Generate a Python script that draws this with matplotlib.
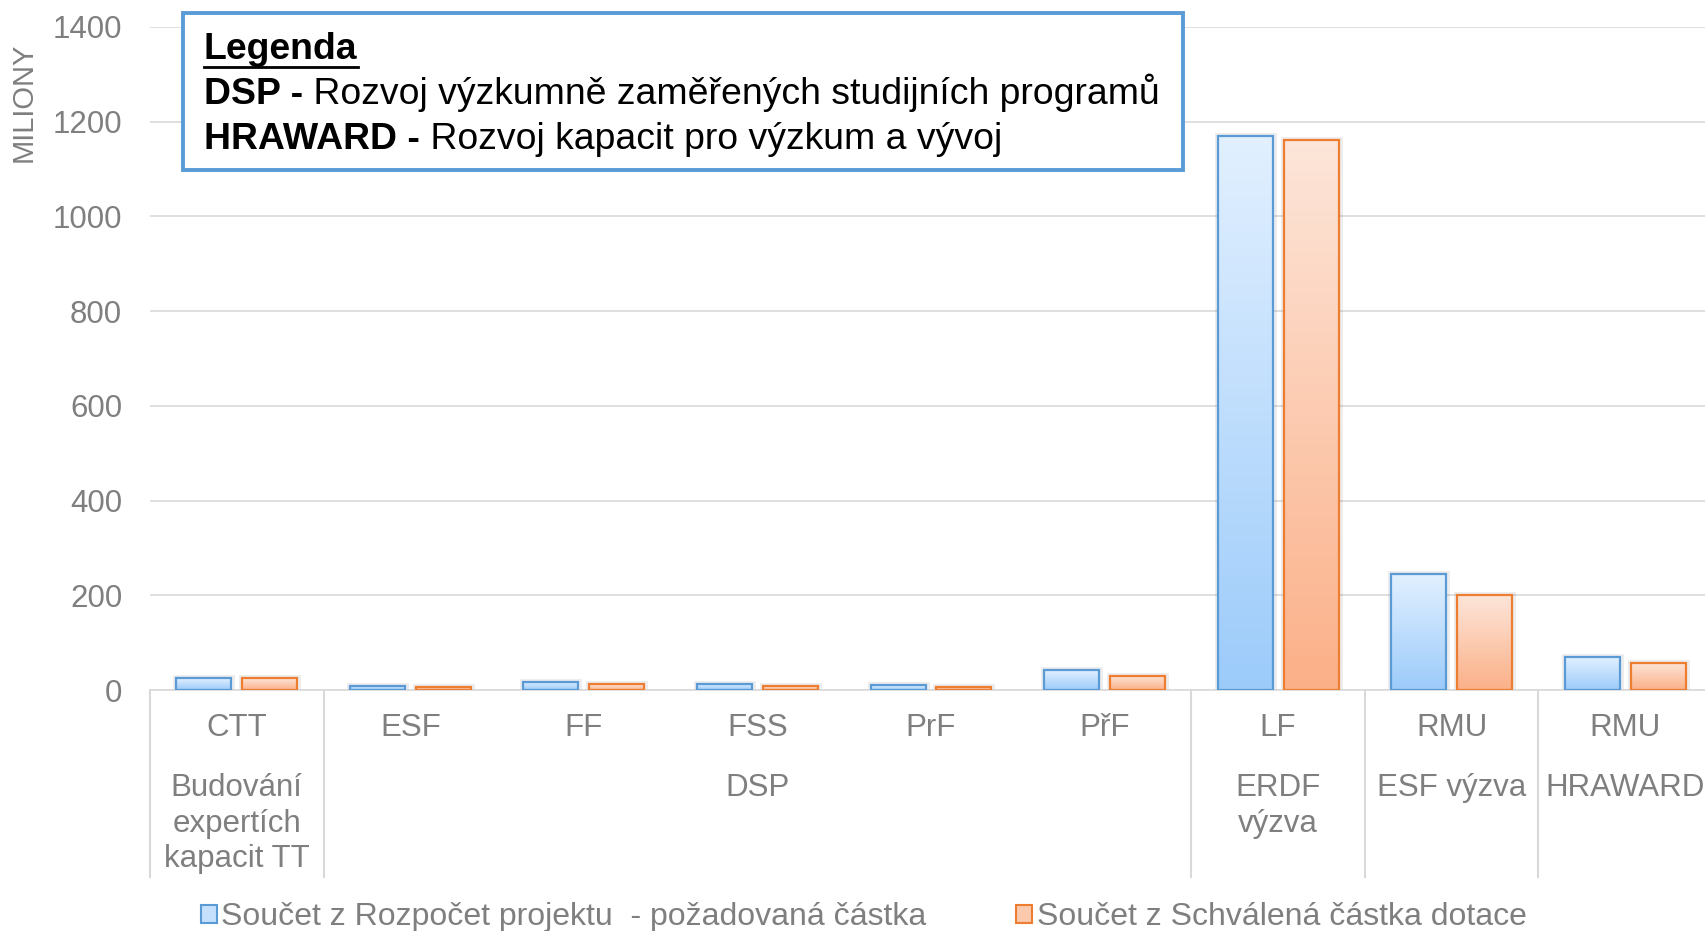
import matplotlib
matplotlib.use('Agg')
import matplotlib.pyplot as plt
import numpy as np
from matplotlib.colors import LinearSegmentedColormap
from matplotlib.patches import Rectangle, Patch
from matplotlib.lines import Line2D
from matplotlib.text import Annotation
import matplotlib.transforms as mtransforms

plt.rcParams['font.family'] = ['Liberation Sans', 'DejaVu Sans']

# data (millions CZK)
units = ['CTT', 'ESF', 'FF', 'FSS', 'PrF', 'PřF', 'LF', 'RMU', 'RMU']
requested = [25, 9, 17, 13, 10, 42, 1170, 245, 69]
approved = [25, 7, 12, 8, 7, 30, 1162, 201, 58]
# programme label, first unit index, last unit index
programmes = [('Budování\nexpertích\nkapacit TT', 0, 0),
              ('DSP', 1, 5),
              ('ERDF\nvýzva', 6, 6),
              ('ESF výzva', 7, 7),
              ('HRAWARD', 8, 8)]
series_names = ['Součet z Rozpočet projektu  - požadovaná částka',
                'Součet z Schválená částka dotace']
y_ticks = [0, 200, 400, 600, 800, 1000, 1200, 1400]

GREY = '#7f7f7f'
GRID = '#d9d9d9'
BLUE_EDGE = '#5b9bd5'
ORANGE_EDGE = '#ed7d31'
blue_cmap = LinearSegmentedColormap.from_list('b', ['#9ccbfa', '#e2f0ff'])
orange_cmap = LinearSegmentedColormap.from_list('o', ['#fbb088', '#fde6da'])

W, H = 1705, 931
fig = plt.figure(figsize=(W / 100, H / 100), dpi=100)
ax = fig.add_axes([150 / W, 1 - 690 / H, 1562 / W, 663 / H])


def gradient_bars(bars, cmap):
    grad = np.linspace(1, 0, 256).reshape(-1, 1)
    for b in bars:
        x0, y0 = b.get_xy()
        im = ax.imshow(grad, cmap=cmap, aspect='auto', origin='upper',
                       extent=(x0, x0 + b.get_width(), y0, y0 + b.get_height()),
                       zorder=2)
        im.set_clip_path(b)


x = np.arange(len(units))
bw = 0.317
off = 0.19
for vals, cmap, edge, dx in [(requested, blue_cmap, BLUE_EDGE, -off),
                             (approved, orange_cmap, ORANGE_EDGE, off)]:
    # soft shadow
    ax.bar(x + dx, vals, bw, facecolor='none', edgecolor=(0, 0, 0, 0.07),
           linewidth=5, zorder=1.5)
    bars = ax.bar(x + dx, vals, bw, facecolor='none', edgecolor=edge,
                  linewidth=1.6, zorder=3)
    gradient_bars(bars, cmap)

ax.set_xlim(-0.5, len(units) - 0.5)
ax.set_ylim(0, 1400)
ax.set_yticks(y_ticks)
ax.set_yticklabels([str(v) for v in y_ticks])
ax.tick_params(axis='y', length=0, pad=20, labelsize=22.5, labelcolor=GREY)
ax.set_xticks([])
ax.yaxis.grid(True, color=GRID, linewidth=1.2)
ax.set_axisbelow(True)
for s in ['left', 'right', 'top']:
    ax.spines[s].set_visible(False)
ax.spines['bottom'].set_color(GRID)
ax.spines['bottom'].set_linewidth(1.2)

# multi-level category axis
trans = mtransforms.blended_transform_factory(ax.transData, ax.transAxes)
for i, u in enumerate(units):
    ax.text(i, -0.057, u, transform=trans, ha='center', va='center',
            fontsize=22.5, color=GREY)
div_bottom = -(877 - 690) / 663
for label, a, b in programmes:
    ax.text((a + b) / 2, -0.125, label, transform=trans, ha='center', va='top',
            fontsize=22.5, color=GREY, linespacing=1.25)
    ax.plot([a - 0.5, a - 0.5], [0, div_bottom], transform=trans, color=GRID,
            linewidth=1.5, clip_on=False)
ax.plot([len(units) - 0.5] * 2, [0, div_bottom], transform=trans, color=GRID,
        linewidth=1.5, clip_on=False)

fig.text(24 / W, 1 - 102 / H, 'MILIONY', rotation=90, ha='center', va='center',
         fontsize=21, color=GREY)

# bottom legend
handles = [Patch(facecolor='#c4e0fc', edgecolor=BLUE_EDGE, linewidth=1.5),
           Patch(facecolor='#fcc9ad', edgecolor=ORANGE_EDGE, linewidth=1.5)]
fig.legend(handles, series_names, loc='center', bbox_to_anchor=(0.5065, 1 - 917 / H),
           ncol=2, frameon=False, fontsize=23, labelcolor=GREY,
           handlelength=0.5, handleheight=0.5, handletextpad=0.15,
           columnspacing=2.8, borderpad=0)

# text box "Legenda"
BOX_FS = 26.9
fig.patches.append(Rectangle((183 / W, 1 - 170 / H), 1000 / W, 157 / H,
                             transform=fig.transFigure, facecolor='white',
                             edgecolor=BLUE_EDGE, linewidth=2.8, zorder=5))
tx = 204 / W
t0 = fig.text(tx, 1 - 59 / H, 'Legenda', fontsize=BOX_FS, weight='bold',
              color='black', va='baseline', zorder=6)
rows = [('DSP -', ' Rozvoj výzkumně zaměřených studijních programů', 104),
        ('HRAWARD -', ' Rozvoj kapacit pro výzkum a vývoj', 149)]
for bold, rest, yb in rows:
    tb = fig.text(tx, 1 - yb / H, bold, fontsize=BOX_FS, weight='bold',
                  color='black', va='baseline', zorder=6)
    ann = Annotation(rest, xy=(1, 0), xycoords=tb, ha='left', va='bottom',
                     fontsize=BOX_FS, color='black', annotation_clip=False)
    ann.set_zorder(6)
    fig.add_artist(ann)

fig.canvas.draw()
bb = t0.get_window_extent()
yl = 1 - 67 / H
fig.lines.append(Line2D([bb.x0 / W, bb.x1 / W], [yl, yl], transform=fig.transFigure,
                        color='black', linewidth=2, zorder=6))

fig.savefig('out.png', dpi=100)
